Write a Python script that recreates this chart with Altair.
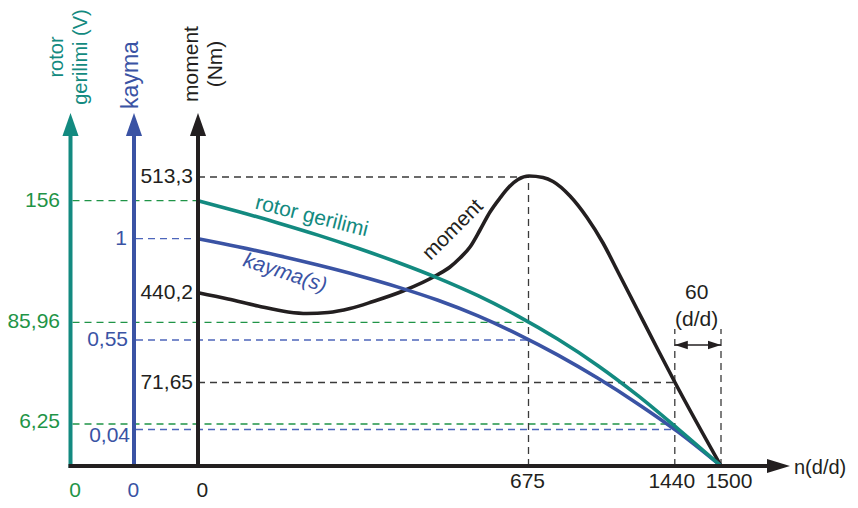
import altair as alt
import pandas as pd

FONT = "Liberation Sans"
TEAL = "#138a80"
GREEN = "#1f9447"
BLUE = "#3a53a4"
BLUE_D = "#4d66bb"
BLACK = "#231f20"
GREY = "#3a3a3a"

# ---- diagram data (horizontal position along n axis, height above n axis) ----
axis_rotor_x = -127.5
axis_kayma_x = -64.0
axis_moment_x = 0.0

n_labels = ["675", "1440", "1500"]
n_pos = [330.5, 476.8, 523.0]
n_label_nudge = [-1.0, -3.0, 8.0]

moment_labels = ["513,3", "440,2", "71,65"]
moment_pos = [289.0, 173.3, 83.5]
rotor_labels = ["156", "85,96", "6,25"]
rotor_pos = [265.3, 143.7, 42.0]
rotor_label_nudge = [0.0, 0.0, 2.5]
kayma_labels = ["1", "0,55", "0,04"]
kayma_pos = [227.3, 126.0, 36.5]
kayma_label_nudge = [0.0, 0.0, -6.0]

moment_x = [0, 30, 60, 90, 109, 130, 152, 175, 205, 239, 252, 262, 272, 282,
            292, 302, 311, 320, 331, 345, 355, 372, 389, 405, 420, 439, 458,
            477, 523]
moment_y = [173.3, 167, 160, 154, 152.5, 153.5, 157.5, 164.5, 175, 191, 199,
            208, 219, 236, 254, 268, 279, 286.5, 290, 288.5, 284.5, 270, 248.5,
            223, 194, 157, 120, 83.5, 0]

rotor_x = [0, 40, 80, 120, 160, 200, 240, 280, 320, 360, 400, 440, 480, 523]
rotor_y = [265.3, 254.5, 243.1, 230.9, 217.7, 203.5, 187.9, 170.3, 149.9,
           126.7, 100.3, 70.3, 37.1, 0]

kayma_x = [0, 40, 80, 120, 160, 200, 240, 280, 320, 360, 400, 440, 480, 523]
kayma_y = [227.3, 219.3, 210.5, 200.9, 190.5, 178.9, 165.7, 150.1, 131.7,
           110.9, 87.7, 62.1, 34.1, 0]

xscale = alt.Scale(domain=[-190, 652], nice=False, zero=False)
yscale = alt.Scale(domain=[-34, 458], nice=False, zero=False)


def X(f="x"):
    return alt.X(f"{f}:Q", scale=xscale, axis=None)


def Y(f="y"):
    return alt.Y(f"{f}:Q", scale=yscale, axis=None)


COL = alt.Color("color:N", scale=None)

# ---- dashed reference lines ----
dash_rows = []
for p, end in zip(rotor_pos, [0, n_pos[0], n_pos[1]]):
    dash_rows.append(dict(x=axis_rotor_x + 2, x2=end, y=p, y2=p, color=GREEN))
for p, end in zip(kayma_pos, [0, n_pos[0], n_pos[1]]):
    dash_rows.append(dict(x=axis_kayma_x + 2, x2=end, y=p, y2=p, color=BLUE_D))
dash_rows.append(dict(x=0, x2=n_pos[0], y=moment_pos[0], y2=moment_pos[0], color=GREY))
dash_rows.append(dict(x=0, x2=n_pos[1], y=moment_pos[2], y2=moment_pos[2], color=GREY))
dash_rows.append(dict(x=n_pos[0], x2=n_pos[0], y=0, y2=moment_pos[0], color=GREY))
dash_rows.append(dict(x=n_pos[1], x2=n_pos[1], y=0, y2=137, color=GREY))
dash_rows.append(dict(x=n_pos[2], x2=n_pos[2], y=0, y2=137, color=GREY))
dash_df = pd.DataFrame(dash_rows)

dashes = alt.Chart(dash_df).mark_rule(strokeDash=[7, 5], strokeWidth=1.3).encode(
    x=X(), x2=alt.X2("x2:Q"), y=Y(), y2=alt.Y2("y2:Q"), color=COL)

# ---- axes ----
vax_df = pd.DataFrame(dict(
    x=[axis_rotor_x, axis_kayma_x, axis_moment_x],
    x2=[axis_rotor_x, axis_kayma_x, axis_moment_x],
    y=[-2, -2, -2], y2=[332, 332, 332],
    color=[TEAL, BLUE, BLACK]))
vaxes = alt.Chart(vax_df).mark_rule(strokeWidth=4).encode(
    x=X(), x2=alt.X2("x2:Q"), y=Y(), y2=alt.Y2("y2:Q"), color=COL)

hax_df = pd.DataFrame(dict(x=[axis_rotor_x - 2], x2=[572], y=[0], y2=[0], color=[BLACK]))
haxis = alt.Chart(hax_df).mark_rule(strokeWidth=4).encode(
    x=X(), x2=alt.X2("x2:Q"), y=Y(), y2=alt.Y2("y2:Q"), color=COL)

up_df = pd.DataFrame(dict(x=[axis_rotor_x, axis_kayma_x, axis_moment_x],
                          y=[341.5, 341.5, 341.5], color=[TEAL, BLUE, BLACK]))
up_arrows = alt.Chart(up_df).mark_point(
    shape="M-0.7,1L0,-1L0.7,1Z", size=529, filled=True, opacity=1, strokeWidth=0
).encode(x=X(), y=Y(), color=COL)

right_df = pd.DataFrame(dict(x=[580.5], y=[0], color=[BLACK]))
right_arrow = alt.Chart(right_df).mark_point(
    shape="M-1,-0.6L1,0L-1,0.6Z", size=529, filled=True, opacity=1, strokeWidth=0
).encode(x=X(), y=Y(), color=COL)

# ---- 60 (d/d) dimension ----
dim_df = pd.DataFrame(dict(x=[n_pos[1]], x2=[n_pos[2]], y=[121], y2=[121], color=[BLACK]))
dim_line = alt.Chart(dim_df).mark_rule(strokeWidth=1.5).encode(
    x=X(), x2=alt.X2("x2:Q"), y=Y(), y2=alt.Y2("y2:Q"), color=COL)
dim_l_df = pd.DataFrame(dict(x=[n_pos[1] + 6.5], y=[121], color=[BLACK]))
dim_r_df = pd.DataFrame(dict(x=[n_pos[2] - 6.5], y=[121], color=[BLACK]))
dim_l = alt.Chart(dim_l_df).mark_point(
    shape="M-1,0L1,-0.65L1,0.65Z", size=169, filled=True, opacity=1, strokeWidth=0
).encode(x=X(), y=Y(), color=COL)
dim_r = alt.Chart(dim_r_df).mark_point(
    shape="M1,0L-1,-0.65L-1,0.65Z", size=169, filled=True, opacity=1, strokeWidth=0
).encode(x=X(), y=Y(), color=COL)

# ---- curves ----
curve_df = pd.concat([
    pd.DataFrame(dict(x=moment_x, y=moment_y, series="a_moment", color=BLACK,
                      i=range(len(moment_x)))),
    pd.DataFrame(dict(x=kayma_x, y=kayma_y, series="b_kayma", color=BLUE,
                      i=range(len(kayma_x)))),
    pd.DataFrame(dict(x=rotor_x, y=rotor_y, series="c_rotor", color=TEAL,
                      i=range(len(rotor_x)))),
], ignore_index=True)
curves = alt.Chart(curve_df).mark_line(strokeWidth=3.6, interpolate="monotone").encode(
    x=X(), y=Y(), color=COL, detail="series:N", order="i:Q")


# ---- texts ----
def texts(df, **kw):
    params = dict(font=FONT, fontSize=21, baseline="middle")
    params.update(kw)
    return alt.Chart(df).mark_text(**params).encode(
        x=X(), y=Y(), text="text:N", color=COL)


right_rows = []
for t, p in zip(moment_labels, moment_pos):
    right_rows.append(dict(x=-5, y=p, text=t, color=BLACK))
for t, p, d in zip(rotor_labels, rotor_pos, rotor_label_nudge):
    right_rows.append(dict(x=axis_rotor_x - 10.5, y=p + d, text=t, color=GREEN))
for t, p, d, dx in zip(kayma_labels, kayma_pos, kayma_label_nudge, [-7, -6, -4]):
    right_rows.append(dict(x=axis_kayma_x + dx, y=p + d, text=t, color=BLUE))
right_texts = texts(pd.DataFrame(right_rows), align="right")

center_rows = [
    dict(x=axis_rotor_x + 4.5, y=-24.7, text="0", color=GREEN),
    dict(x=axis_kayma_x - 0.7, y=-24.7, text="0", color=BLUE),
    dict(x=axis_moment_x + 4.3, y=-24.7, text="0", color=BLACK),
    dict(x=498.7, y=172.7, text="60", color=BLACK),
    dict(x=498.7, y=146, text="(d/d)", color=BLACK),
]
for t, p, d in zip(n_labels, n_pos, n_label_nudge):
    center_rows.append(dict(x=p + d, y=-15.7, text=t, color=BLACK))
center_texts = texts(pd.DataFrame(center_rows), align="center")

left_texts = texts(pd.DataFrame([dict(x=596, y=-2, text="n(d/d)", color=BLACK)]),
                   align="left", fontSize=20)

rotor_title = texts(pd.DataFrame([dict(x=-141.5, y=409, text="rotor\ngerilimi (V)",
                                       color=TEAL)]),
                    align="center", angle=270, lineBreak="\n", lineHeight=24,
                    fontSize=20)
kayma_title = texts(pd.DataFrame([dict(x=-67.0, y=391, text="kayma", color=BLUE)]),
                    align="center", angle=270, fontSize=23)
moment_title = texts(pd.DataFrame([dict(x=-6.0, y=402, text="moment\n(Nm)",
                                        color=BLACK)]),
                     align="center", angle=270, lineBreak="\n", lineHeight=24)

rg = texts(pd.DataFrame([dict(x=113.7, y=249.3, text="rotor gerilimi", color=TEAL)]),
           align="center", angle=14)
ks = texts(pd.DataFrame([dict(x=87, y=192.7, text="kayma(s)", color=BLUE)]),
           align="center", angle=18, fontStyle="italic")
mm = texts(pd.DataFrame([dict(x=255, y=236, text="moment", color=BLACK)]),
           align="center", angle=315)

chart = alt.layer(
    dashes, curves, vaxes, haxis, up_arrows, right_arrow,
    dim_line, dim_l, dim_r,
    right_texts, center_texts, left_texts,
    rotor_title, kayma_title, moment_title, rg, ks, mm,
).properties(
    width=842, height=492, autosize="none", padding=0, background="white"
).configure_view(stroke=None)

chart.save("out.html", embed_options={"renderer": "svg", "actions": False})
